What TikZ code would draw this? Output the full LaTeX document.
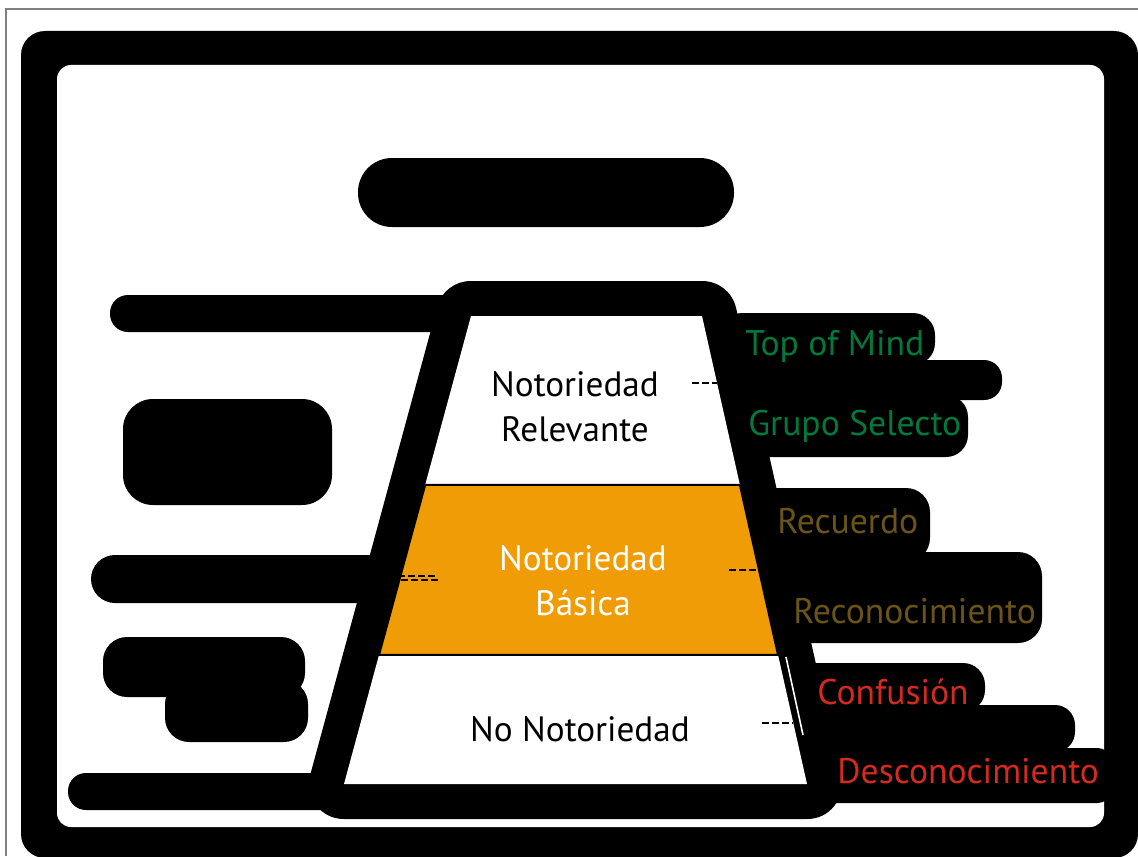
\documentclass[tikz,border=0pt]{standalone}
\usepackage{fontspec}
\setmainfont{PT Sans}
\usetikzlibrary{calc}

\definecolor{mindgreen}{HTML}{00793D}
\definecolor{recallbrown}{HTML}{6B5418}
\definecolor{lostred}{HTML}{D42A1F}
\definecolor{basicorange}{HTML}{EF9C06}
\definecolor{edgegray}{HTML}{808080}

\tikzset{
  blob/.style={fill=black, rounded corners=#1},
  blob/.default=12pt,
  dashmark/.style={line width=1.1pt, dash pattern=on 3.5pt off 1.5pt},
  tiertext/.style={font=\fontsize{17.6}{22.5}\selectfont, align=center, anchor=base, inner sep=0pt},
  leveltext/.style={font=\fontsize{17.8}{20}\selectfont, anchor=base west, inner sep=0pt}
}

\begin{document}
\begin{tikzpicture}[x=0.5pt, y=-0.5pt]
  \useasboundingbox (0,0) rectangle (1138,856);

  % thin outer edge
  \draw[edgegray, line width=0.6pt] (6,856) -- (6,9) -- (1138,9);

  % heavy rounded frame
  \fill[black, rounded corners=12pt] (21,31) rectangle (1138,858);
  \fill[white, rounded corners=7pt] (57,65) rectangle (1104,827);

  % title blob
  \fill[blob=17pt] (358,158) rectangle (734,227);

  % left blobs
  \fill[blob=9pt]  (110,295) rectangle (460,332);
  \fill[blob=15pt] (123,399) rectangle (332,505);
  \fill[blob=12pt] (91,555) rectangle (400,603);
  \fill[blob=12pt] (103,637) rectangle (305,697);
  \fill[blob=12pt] (165,680) rectangle (308,742);
  \fill[blob=9pt]  (68,773) rectangle (380,810);

  % right blobs behind the level names
  \fill[blob=11pt] (720,313) rectangle (935,365);
  \fill[blob=9pt]  (740,360) rectangle (1002,400);
  \fill[blob=11pt] (740,395) rectangle (968,457);
  \fill[blob=12pt] (740,488) rectangle (930,562);
  \fill[blob=12pt] (740,552) rectangle (1042,643);
  \fill[blob=11pt] (790,663) rectangle (985,712);
  \fill[blob=10pt] (790,705) rectangle (1075,752);
  \fill[blob=6pt]  (790,748) rectangle (1110,803);

  % pyramid
  \coordinate (tl) at (471,316);
  \coordinate (tr) at (702,316);
  \coordinate (br) at (807,784);
  \coordinate (bl) at (344,784);
  \coordinate (l1) at ($(tl)!0.361!(bl)$);
  \coordinate (r1) at ($(tr)!0.361!(br)$);
  \coordinate (l2) at ($(tl)!0.724!(bl)$);
  \coordinate (r2) at ($(tr)!0.724!(br)$);

  \draw[line width=35pt, line join=round] (tl) -- (tr) -- (br) -- (bl) -- cycle;
  \fill[white] (tl) -- (tr) -- (r1) -- (l1) -- cycle;
  \fill[white] (l2) -- (r2) -- (br) -- (bl) -- cycle;
  \filldraw[fill=basicorange, draw=black, line width=1pt] (l1) -- (r1) -- (r2) -- (l2) -- cycle;

  \draw[white, line width=0.8pt] (786,657) -- (803,735);

  % small dash marks
  \draw[dashmark] (692,383) -- (717,383);
  \draw[dashmark] (729,570) -- (758,570);
  \draw[dashmark] (762,723) -- (793,723);
  \draw[dashmark] (398,576) -- (437,576);
  \draw[dashmark] (401,580) -- (440,580);

  % tier names
  \node[tiertext] (relevante) at (575,441) {Notoriedad\\Relevante};
  \node[tiertext, white] (basica) at (583,615) {Notoriedad\\Básica};
  \node[tiertext] (nula) at (580,741) {No Notoriedad};

  % level names
  \node[leveltext, mindgreen] (topmind) at (745,355) {Top of Mind};
  \node[leveltext, mindgreen] (selecto) at (748,435) {Grupo Selecto};
  \node[leveltext, recallbrown] (recuerdo) at (777,533) {Recuerdo};
  \node[leveltext, recallbrown] (reconoc) at (793,623) {Reconocimiento};
  \node[leveltext, lostred] (confusion) at (817,704) {Confusión};
  \node[leveltext, lostred] (desconoc) at (837,783) {Desconocimiento};
\end{tikzpicture}
\end{document}
